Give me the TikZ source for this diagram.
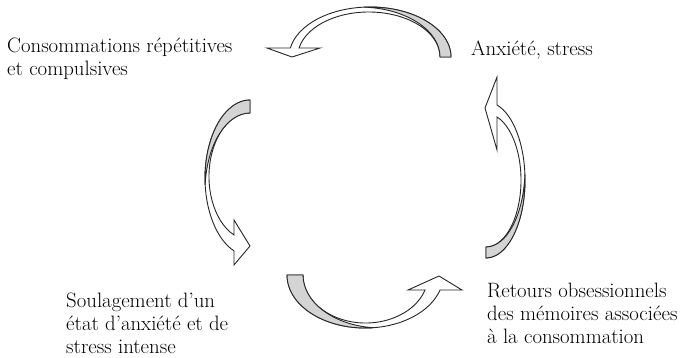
\documentclass[tikz,border=0pt]{standalone}
\usepackage{fontspec}
\usetikzlibrary{calc}
\begin{document}
\begin{tikzpicture}[x=1pt,y=-1pt,
  bodyshape/.style={draw=black!85, line width=0.9pt, fill=white, line join=miter},
  backshape/.style={draw=black!85, line width=0.9pt, fill=black!17, line join=miter},
  txt/.style={anchor=base west, align=left, inner sep=0pt, font=\fontsize{20.8}{23}\selectfont}]
\useasboundingbox (0,0) rectangle (684,357);
% centres of the ellipses
\coordinate (T1) at (370,57);   \coordinate (T3) at (368.8,57);
\coordinate (L1) at (250,178);  \coordinate (L3) at (250,176.5);
\coordinate (B1) at (365.1,275);\coordinate (B3) at (365.6,275);
\coordinate (R1) at (486,179.9);\coordinate (R3) at (486,180.3);
% top arrow
\path[bodyshape] ($(T1)+(190.37:81 and 50)$) -- (267,48) -- (292,57) -- (320,48)
  -- ($(T3)+(191.54:71.2 and 45)$) arc[start angle=191.54, end angle=360, x radius=71.2, y radius=45]
  -- ($(T1)+(0:81 and 50)$) arc[start angle=360, end angle=190.37, x radius=81, y radius=50] -- cycle;
\path[backshape] ($(T1)+(0:81 and 50)$) arc[start angle=360, end angle=266.11, x radius=81, y radius=50]
  arc[start angle=273.89, end angle=360, x radius=81, y radius=50] -- cycle;
% left arrow
\path[bodyshape] ($(L1)+(110.83:45 and 78)$) -- (234,265) -- (250,246) -- (234,220)
  -- ($(L3)+(112.95:41 and 63.5)$) arc[start angle=112.95, end angle=270, x radius=41, y radius=63.5]
  -- ($(L1)+(270:45 and 78)$) arc[start angle=270, end angle=110.83, x radius=45, y radius=78] -- cycle;
\path[backshape] ($(L1)+(270:45 and 78)$) arc[start angle=270, end angle=175.22, x radius=45, y radius=78]
  arc[start angle=184.78, end angle=270, x radius=45, y radius=78] -- cycle;
% bottom arrow
\path[bodyshape] ($(B1)+(16.44:78.1 and 53)$) -- (462,290) -- (439,276) -- (408,290)
  -- ($(B3)+(18.21:62.6 and 48)$) arc[start angle=18.21, end angle=180, x radius=62.6, y radius=48]
  -- ($(B1)+(180:78.1 and 53)$) arc[start angle=180, end angle=16.44, x radius=78.1, y radius=53] -- cycle;
\path[backshape] ($(B1)+(180:78.1 and 53)$) arc[start angle=180, end angle=84.12, x radius=78.1, y radius=53]
  arc[start angle=95.88, end angle=180, x radius=78.1, y radius=53] -- cycle;
% right arrow
\path[bodyshape] ($(R1)+(286.38:39 and 78.1)$) -- (497,77) -- (485,108) -- (497,150)
  -- ($(R3)+(288.32:35 and 66.7)$) arc[start angle=288.32, end angle=450, x radius=35, y radius=66.7]
  -- ($(R1)+(90:39 and 78.1)$) arc[start angle=450, end angle=286.38, x radius=39, y radius=78.1] -- cycle;
\path[backshape] ($(R1)+(90:39 and 78.1)$) arc[start angle=90, end angle=-4.04, x radius=39, y radius=78.1]
  arc[start angle=4.04, end angle=90, x radius=39, y radius=78.1] -- cycle;
% labels (anchored at the baseline of the last line)
\node[txt] (consom) at (7,75) {Consommations répétitives\\et compulsives};
\node[txt] (anx) at (471,55) {Anxiété, stress};
\node[txt] (soul) at (66,353) {Soulagement d’un\\état d’anxiété et de\\stress intense};
\node[txt] (ret) at (487,343) {Retours obsessionnels\\des mémoires associées\\à la consommation};
\end{tikzpicture}
\end{document}
